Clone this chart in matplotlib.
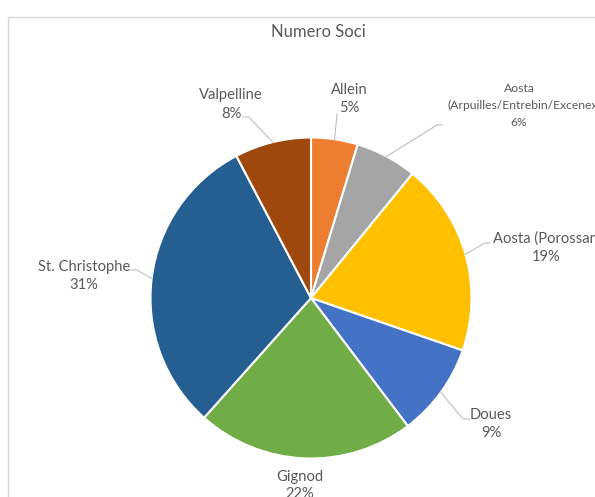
import numpy as np
import matplotlib
matplotlib.use("Agg")
import matplotlib.pyplot as plt
from matplotlib.patches import Rectangle

# ---- data ----
categories = ["Allein", "Aosta (Arpuilles/Entrebin/Excenex", "Aosta (Porossan",
              "Doues", "Gignod", "St. Christophe", "Valpelline"]
values = [4.7, 6.2, 19.4, 9.4, 21.9, 30.7, 7.7]
colors = ["#ED7D31", "#A5A5A5", "#FFC000", "#4472C4", "#70AD47", "#255E91", "#9E480E"]
title = "Numero Soci"

# ---- layout (pixel positions of labels, y measured from top) ----
W, H = 595, 497
CX, CY, R = 311, 298, 160.5
# label text centre (x, y of first line), line spacing, font size
label_pos = [
    (349, 90, 18, 10.6),
    (519, 89, 16.5, 8.7),
    (546, 239, 18, 10.6),
    (491, 415, 18, 10.6),
    (300, 477, 16.5, 10.6),
    (84, 267, 18, 10.6),
    (231, 95, 19, 10.6),
]
# leader line start (near label)
leader_start = [
    (337, 114), (442, 125), (490, 243), (470, 419), None, (130, 270), (243, 117),
]
leader_knee = [
    None, (437, 125), (485, 243), (463, 419), None, (137, 270), (249, 117),
]

FONT = "Lato"
TXT = "#595959"
LINE = "#BFBFBF"

fig = plt.figure(figsize=(W / 100, H / 100), dpi=100)
ax = fig.add_axes([0, 0, 1, 1])

def Y(yp):
    return H - yp

wedges, _ = ax.pie(values, colors=colors, startangle=90, counterclock=False,
                   center=(CX, Y(CY)), radius=R,
                   wedgeprops=dict(edgecolor="white", linewidth=1.5))
ax.set_xlim(0, W)
ax.set_ylim(0, H)
ax.set_aspect("auto")
ax.axis("off")

# chart border (cropped at right/bottom)
ax.add_patch(Rectangle((8, -20), W + 50, Y(17) + 20, fill=False,
                       edgecolor="#D9D9D9", linewidth=1.0, zorder=0))

ax.text(318, Y(32), title, ha="center", va="center", fontsize=12,
        color=TXT, family=FONT)

total = sum(values)
for i, (cat, v) in enumerate(zip(categories, values)):
    pct = f"{round(v / total * 100)}%"
    x, y, dy, fs = label_pos[i]
    kw = dict(fontsize=fs, color=TXT, family=FONT, va="center")
    if cat.startswith("Aosta (Arp"):
        first, rest = cat.split(" (", 1)
        ax.text(x, Y(y), first, ha="center", **kw)
        ax.text(448, Y(y + dy), "(" + rest, ha="left", **kw)
        ax.text(x, Y(y + 2 * dy), pct, ha="center", **kw)
    elif cat.startswith("Aosta (Poro"):
        ax.text(493, Y(y), cat, ha="left", **kw)
        ax.text(x, Y(y + dy), pct, ha="center", **kw)
    else:
        for k, ln in enumerate([cat, pct]):
            ax.text(x, Y(y + k * dy), ln, ha="center", **kw)
    # leader line to wedge mid-edge
    if leader_start[i] is not None:
        w = wedges[i]
        mid = np.deg2rad((w.theta1 + w.theta2) / 2)
        ex, ey = CX + R * np.cos(mid), Y(CY) + R * np.sin(mid)
        sx, sy = leader_start[i]
        kx, ky = leader_knee[i] if leader_knee[i] else (sx, sy)
        ax.plot([sx, kx, ex], [Y(sy), Y(ky), ey], color=LINE, linewidth=0.8,
                zorder=1)

fig.savefig("out.png", dpi=100)
